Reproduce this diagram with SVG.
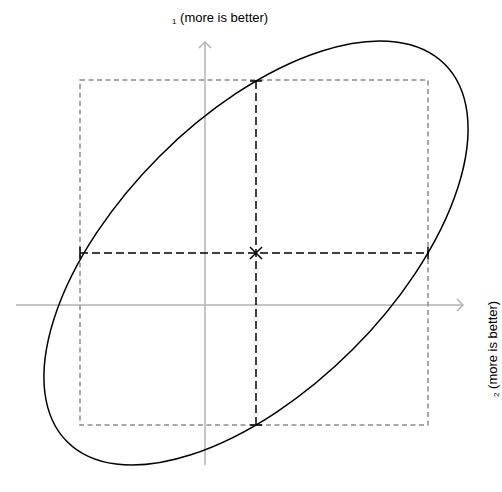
<svg xmlns="http://www.w3.org/2000/svg" width="502" height="492" viewBox="0 0 502 492">
<style>
.axis{stroke:#b3b3b3;stroke-width:1.5;fill:none}
.box{stroke:#8c8c8c;stroke-width:1.5;fill:none;stroke-dasharray:5,3.5}
.cross{stroke:#000;stroke-width:1.5;fill:none;stroke-dasharray:8,4}
.cap{stroke:#000;stroke-width:1.5;fill:none}
.lbl{font-family:"Liberation Sans",Arial,sans-serif;font-size:13px;fill:#000}
.sub{font-size:8px}
</style>
<rect width="502" height="492" fill="#fff"/>
<g id="axes">
<line class="axis" x1="16" y1="305" x2="463" y2="305"/>
<polyline class="axis" points="457,299 463,305 457,311"/>
<line class="axis" x1="205" y1="465" x2="205" y2="42"/>
<polyline class="axis" points="199,48 205,42 211,48"/>
</g>
<g id="bounds">
<rect class="box" x="80" y="80" width="348" height="345"/>
</g>
<g id="connectors">
<line class="cross" x1="80" y1="253" x2="428" y2="253"/>
<line class="cross" x1="256" y1="81" x2="256" y2="425"/>
<line class="cap" x1="80" y1="247" x2="80" y2="259"/>
<line class="cap" x1="428" y1="247" x2="428" y2="259"/>
<line class="cap" x1="250" y1="81" x2="262" y2="81"/>
<line class="cap" x1="250" y1="425" x2="262" y2="425"/>
</g>
<g id="ellipse">
<ellipse cx="256" cy="253" rx="267" ry="136.6" transform="rotate(-45 256 253)" fill="none" stroke="#000" stroke-width="1.5"/>
</g>
<g id="estimate">
<line class="cap" x1="250" y1="247" x2="262" y2="259"/>
<line class="cap" x1="262" y1="247" x2="250" y2="259"/>
</g>
<g id="label-x1">
<text class="lbl" x="172" y="22"><tspan class="sub" dy="2">1</tspan><tspan dy="-2"> (more is better)</tspan></text>
</g>
<g id="label-x2">
<text class="lbl" transform="translate(497,397) rotate(-90)"><tspan class="sub" dy="2">2</tspan><tspan dy="-2"> (more is better)</tspan></text>
</g>
</svg>
